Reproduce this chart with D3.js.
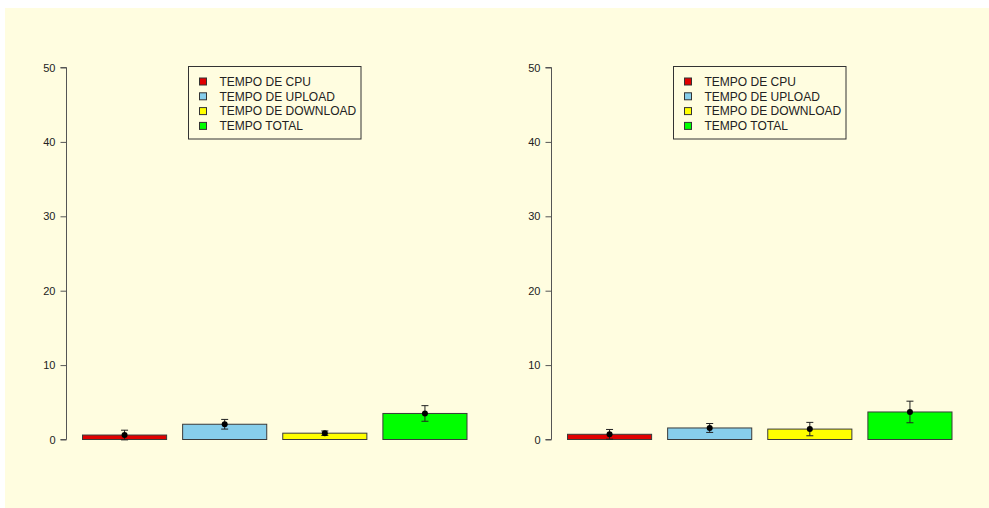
<!DOCTYPE html>
<html>
<head>
<meta charset="utf-8">
<script src="https://cdn.jsdelivr.net/npm/d3@7"></script>
<style>
  html, body { margin: 0; padding: 0; background: #ffffff; }
  svg { display: block; }
  text { font-family: "Liberation Sans", Arial, sans-serif; }
</style>
</head>
<body>
<svg id="chart" width="989" height="508"></svg>
<script>
// Categories shown in both panels
const categories = ["TEMPO DE CPU", "TEMPO DE UPLOAD", "TEMPO DE DOWNLOAD", "TEMPO TOTAL"];
const colors = ["#e00000", "#87ceeb", "#ffff00", "#00ff00"];

// Left panel: means and error half-widths
const leftMeans = [0.6, 2.05, 0.85, 3.5];
const leftErrors = [0.65, 0.65, 0.3, 1.05];

// Right panel: means and error half-widths
const rightMeans = [0.7, 1.55, 1.4, 3.7];
const rightErrors = [0.65, 0.6, 0.9, 1.45];

const yTicks = [0, 10, 20, 30, 40, 50];

const svg = d3.select("#chart");

// panel background
svg.append("rect")
  .attr("x", 5).attr("y", 8)
  .attr("width", 984).attr("height", 500)
  .attr("fill", "#fffde0");

const y = d3.scaleLinear().domain([0, 50]).range([439.5, 67.5]);

function panel(offsetX, means, errors) {
  const g = svg.append("g").attr("transform", `translate(${offsetX},0)`);

  const x = d3.scaleBand()
    .domain(categories)
    .range([82.5, 467])
    .paddingInner(0.16)
    .paddingOuter(0);

  // y axis
  const axis = d3.axisLeft(y).tickValues(yTicks).tickSize(6).tickPadding(5);
  const ag = g.append("g").attr("transform", "translate(66.5,0)").call(axis);
  ag.select(".domain").attr("stroke", "#555").attr("d", `M-6,${y(0)}H0V${y(50)}H-6`);
  ag.selectAll(".tick line").attr("stroke", "#555");
  ag.selectAll(".tick text")
    .attr("fill", "#222")
    .style("font-size", "11px")
    .style("font-family", "'Liberation Sans', Arial, sans-serif");

  // bars
  g.selectAll("rect.bar").data(means).join("rect")
    .attr("class", "bar")
    .attr("x", (d, i) => x(categories[i]))
    .attr("y", d => y(d))
    .attr("width", x.bandwidth())
    .attr("height", d => y(0) - y(d))
    .attr("fill", (d, i) => colors[i])
    .attr("stroke", "#3a3a3a")
    .attr("stroke-width", 1);

  // error bars
  const eg = g.selectAll("g.err").data(means).join("g").attr("class", "err");
  const cx = i => x(categories[i]) + x.bandwidth() / 2;
  eg.append("line")
    .attr("x1", (d, i) => cx(i)).attr("x2", (d, i) => cx(i))
    .attr("y1", (d, i) => y(d + errors[i])).attr("y2", (d, i) => y(d - errors[i]))
    .attr("stroke", "#222").attr("stroke-width", 1);
  eg.append("line")
    .attr("x1", (d, i) => cx(i) - 3.5).attr("x2", (d, i) => cx(i) + 3.5)
    .attr("y1", (d, i) => y(d + errors[i])).attr("y2", (d, i) => y(d + errors[i]))
    .attr("stroke", "#222").attr("stroke-width", 1);
  eg.append("line")
    .attr("x1", (d, i) => cx(i) - 3.5).attr("x2", (d, i) => cx(i) + 3.5)
    .attr("y1", (d, i) => y(d - errors[i])).attr("y2", (d, i) => y(d - errors[i]))
    .attr("stroke", "#222").attr("stroke-width", 1);
  eg.append("circle")
    .attr("cx", (d, i) => cx(i))
    .attr("cy", d => y(d))
    .attr("r", 3)
    .attr("fill", "#000");

  // legend
  const lg = g.append("g").attr("transform", "translate(188.5,66.5)");
  lg.append("rect")
    .attr("width", 172.5).attr("height", 72.5)
    .attr("fill", "none").attr("stroke", "#333").attr("stroke-width", 1);
  const items = lg.selectAll("g.item").data(categories).join("g")
    .attr("class", "item")
    .attr("transform", (d, i) => `translate(0,${15 + i * 14.8})`);
  items.append("rect")
    .attr("x", 11).attr("y", -3.5)
    .attr("width", 7).attr("height", 7)
    .attr("fill", (d, i) => colors[i])
    .attr("stroke", "#333").attr("stroke-width", 1);
  items.append("text")
    .attr("x", 31).attr("y", 4.3)
    .attr("fill", "#222")
    .style("font-size", "12px")
    .text(d => d);
}

panel(0, leftMeans, leftErrors);
panel(485, rightMeans, rightErrors);
</script>
</body>
</html>
